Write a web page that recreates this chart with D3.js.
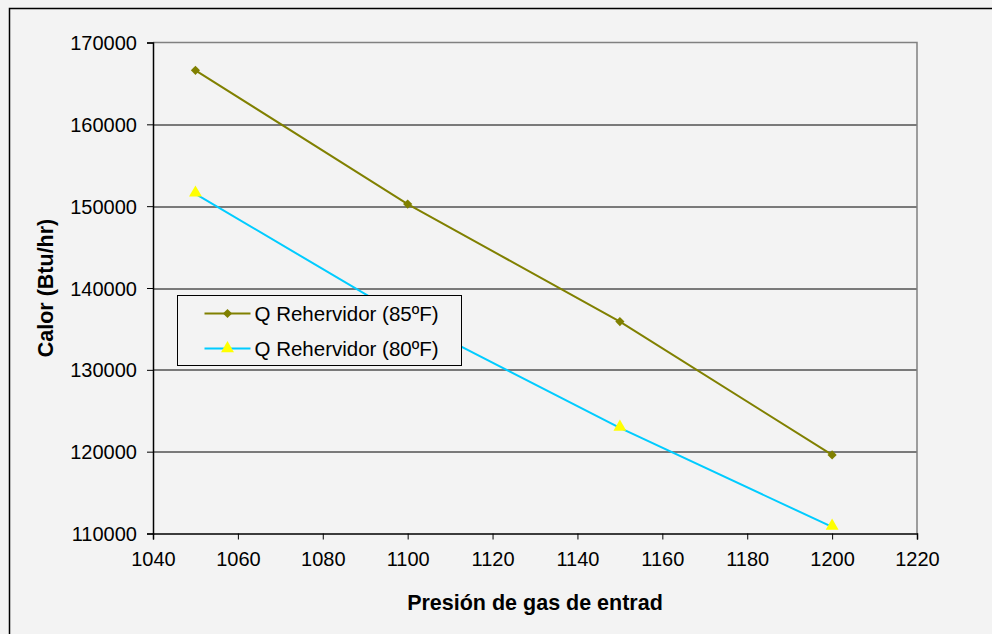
<!DOCTYPE html>
<html>
<head>
<meta charset="utf-8">
<style>
  body { margin: 0; background: #f3f3f3; }
  svg { display: block; font-family: "Liberation Sans", Arial, sans-serif; }
</style>
</head>
<body>
<script src="https://d3js.org/d3.v7.min.js"></script>
<script>

// presion de gas de entrada (x) y calor (y)
var presion = [1050, 1100, 1150, 1200];
var calor85 = [166600, 150250, 135900, 119600];
var calor80 = [151500, 136200, 122900, 110800];
var xTicks = [1040, 1060, 1080, 1100, 1120, 1140, 1160, 1180, 1200, 1220];
var yTicks = [110000, 120000, 130000, 140000, 150000, 160000, 170000];
var seriesNames = ["Q Rehervidor (85\u00baF)", "Q Rehervidor (80\u00baF)"];

var W = 992, H = 634;
var margin = {top: 42.5, right: 75, bottom: 100.5, left: 153};
var width = W - margin.left - margin.right,
    height = H - margin.top - margin.bottom;

var svg = d3.select("body").append("svg")
    .attr("width", W)
    .attr("height", H);

svg.append("rect").attr("width", W).attr("height", H).attr("fill", "#f3f3f3");

// outer chart border (only top & left show)
svg.append("path")
    .attr("d", "M9.5," + H + "V8.5H" + W)
    .attr("fill", "none")
    .attr("stroke", "#000")
    .attr("stroke-width", 1.5);

var g = svg.append("g")
    .attr("transform", "translate(" + margin.left + "," + margin.top + ")");

var x = d3.scaleLinear().domain([1040, 1220]).range([0, width]);
var y = d3.scaleLinear().domain([110000, 170000]).range([height, 0]);

// gridlines
g.append("g").selectAll("line")
    .data(yTicks.slice(1, -1))
  .enter().append("line")
    .attr("x1", 0).attr("x2", width)
    .attr("y1", function(d) { return Math.round(y(d)) + 0.5; })
    .attr("y2", function(d) { return Math.round(y(d)) + 0.5; })
    .attr("stroke", "#000");

// plot frame top/right in gray
g.append("path")
    .attr("d", "M0,0H" + width + "V" + height)
    .attr("fill", "none")
    .attr("stroke", "#808080")
    .attr("stroke-width", 1.5);

var xAxis = g.append("g")
    .attr("transform", "translate(0," + height + ")")
    .call(d3.axisBottom(x).tickValues(xTicks).tickSize(6).tickPadding(12).tickFormat(d3.format("d")));
var yAxis = g.append("g")
    .call(d3.axisLeft(y).tickValues(yTicks).tickSize(6).tickPadding(10).tickFormat(d3.format("d")));

[xAxis, yAxis].forEach(function(a) {
  a.select(".domain").attr("stroke", "#000").attr("stroke-width", 1.5);
  a.selectAll(".tick line").attr("stroke", "#000");
  a.selectAll(".tick text")
    .attr("font-size", 20)
    .attr("fill", "#000")
    .attr("font-family", "Liberation Sans, Arial, sans-serif");
});
yAxis.selectAll(".tick text").attr("dy", "0.35em");

// axis titles
svg.append("text")
    .attr("x", margin.left + width / 2)
    .attr("y", 610)
    .attr("text-anchor", "middle")
    .attr("font-size", 21.5)
    .attr("font-weight", "bold")
    .text("Presi\u00f3n de gas de entrad");

svg.append("text")
    .attr("transform", "translate(53," + (margin.top + height / 2) + ") rotate(-90)")
    .attr("text-anchor", "middle")
    .attr("font-size", 21.5)
    .attr("font-weight", "bold")
    .text("Calor (Btu/hr)");

var line = d3.line()
    .x(function(d, i) { return x(presion[i]); })
    .y(function(d) { return y(d); });

var diamond = d3.symbol().type(d3.symbolSquare).size(42);
var triangle = d3.symbol().type(d3.symbolTriangle).size(72);

// 85F series
g.append("path")
    .datum(calor85)
    .attr("d", line)
    .attr("fill", "none")
    .attr("stroke", "#808000")
    .attr("stroke-width", 2);
g.selectAll(".m85")
    .data(calor85)
  .enter().append("path")
    .attr("class", "m85")
    .attr("transform", function(d, i) { return "translate(" + x(presion[i]) + "," + y(d) + ") rotate(45)"; })
    .attr("d", diamond)
    .attr("fill", "#808000");

// 80F series
g.append("path")
    .datum(calor80)
    .attr("d", line)
    .attr("fill", "none")
    .attr("stroke", "#00ccff")
    .attr("stroke-width", 2);
g.selectAll(".m80")
    .data(calor80)
  .enter().append("path")
    .attr("class", "m80")
    .attr("transform", function(d, i) { return "translate(" + x(presion[i]) + "," + (y(d) - 1) + ")"; })
    .attr("d", triangle)
    .attr("fill", "#ffff00");

// legend (covers part of the plot)
var lg = svg.append("g").attr("transform", "translate(177.5,295.5)");
lg.append("rect")
    .attr("width", 284)
    .attr("height", 70)
    .attr("fill", "#f3f3f3")
    .attr("stroke", "#000");

var items = [
  {name: seriesNames[0], color: "#808000", marker: diamond, fill: "#808000", rot: 45},
  {name: seriesNames[1], color: "#00ccff", marker: triangle, fill: "#ffff00", rot: 0}
];
items.forEach(function(it, i) {
  var yy = 18 + i * 35;
  lg.append("line")
      .attr("x1", 27).attr("x2", 73)
      .attr("y1", yy).attr("y2", yy)
      .attr("stroke", it.color)
      .attr("stroke-width", 2);
  lg.append("path")
      .attr("transform", "translate(50," + yy + ") rotate(" + it.rot + ")")
      .attr("d", it.marker)
      .attr("fill", it.fill);
  lg.append("text")
      .attr("x", 77)
      .attr("y", yy)
      .attr("dy", "0.35em")
      .attr("font-size", 20.5)
      .text(it.name);
});

</script>
</body>
</html>
